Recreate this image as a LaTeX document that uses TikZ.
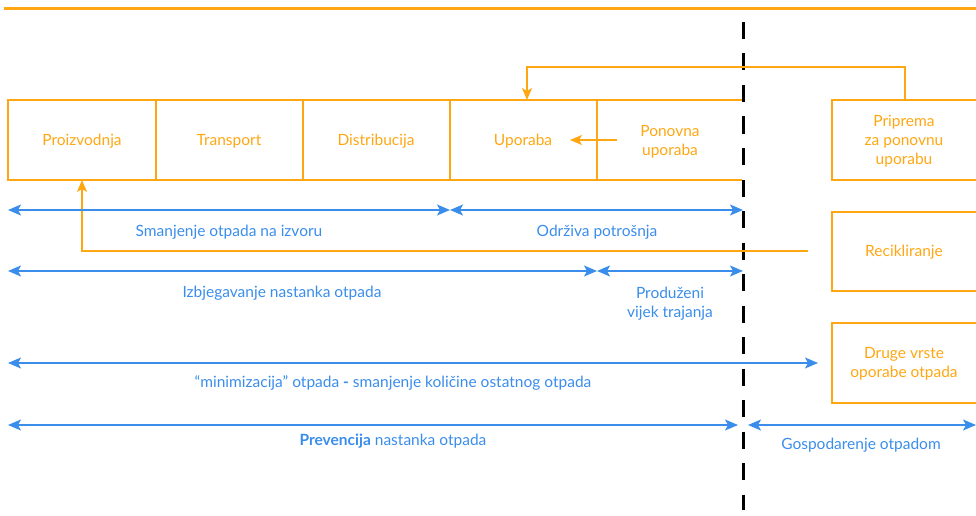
\documentclass[tikz,border=0pt]{standalone}
\usepackage{fontspec}
\setmainfont{Lato}
\usetikzlibrary{arrows.meta}
\definecolor{org}{HTML}{FFA712}
\definecolor{blu}{HTML}{3A8DEB}
\newcommand{\fs}{\fontsize{15.5}{19}\selectfont}
\tikzset{
  box/.style={draw=org, line width=1.2pt, outer sep=0pt, minimum height=80pt, inner sep=0pt},
  otext/.style={text=org, font=\fs, align=center, inner sep=0pt},
  lbl/.style={text=blu, font=\fs, align=center, inner sep=0pt},
  barrow/.style={draw=blu, line width=1.3pt, {Stealth[length=13pt,width=11pt,inset=3pt]}-{Stealth[length=13pt,width=11pt,inset=3pt]}},
  oarrow/.style={draw=org, line width=1.2pt, -{Stealth[length=12pt,width=10pt,inset=3pt]}},
}
\begin{document}
\begin{tikzpicture}[x=1pt,y=-1pt]
\useasboundingbox (0,0) rectangle (976,516);
% top line
\draw[org, line width=3pt] (4,9) -- (976,9);
% boxes row
\node[box, minimum width=148pt, anchor=north west] (p1) at (8,100) {};
\node[box, minimum width=147pt, anchor=north west] (p2) at (156,100) {};
\node[box, minimum width=147pt, anchor=north west] (p3) at (303,100) {};
\node[box, minimum width=147pt, anchor=north west] (p4) at (450,100) {};
\node[box, draw=none, minimum width=145pt, anchor=north west] (p5) at (597,100) {};
\draw[org, line width=1.2pt] (p5.north west) -- (p5.north east) (p5.south west) -- (p5.south east);
\node[otext] (p1t) at (82,141.5) {Proizvodnja};
\node[otext] (p2t) at (229,141.5) {Transport};
\node[otext] (p3t) at (376,141.5) {Distribucija};
\node[otext] (p4t) at (523,141.5) {Uporaba};
\node[otext] (p5t) at (670,141.5) {Ponovna\\uporaba};
% right boxes
\node[box, minimum width=160pt, anchor=north west] (r1) at (832,100) {};
\node[otext] (r1t) at (904,141.5) {Priprema\\za ponovnu\\uporabu};
\node[box, minimum width=160pt, minimum height=79pt, anchor=north west] (r2) at (832,212) {};
\node[otext] (r2t) at (904,252.5) {Recikliranje};
\node[box, minimum width=160pt, anchor=north west] (r3) at (832,323) {};
\node[otext] (r3t) at (904,363.5) {Druge vrste\\oporabe otpada};
% dashed line
\coordinate (dtop) at (743,22);
\coordinate (dbot) at (743,510);
\draw[black, line width=3pt, dash pattern=on 17pt off 14.5pt] (dtop) -- (dbot);
% orange connectors
\coordinate (c1) at (905,67);
\coordinate (c2) at (527,67);
\draw[oarrow] (r1.north -| c1) -- (c1) -- (c2) -- (c2 |- p4.north);
\coordinate (a1) at (617,140);
\coordinate (a2) at (570,140);
\draw[oarrow] (a1) -- (a2);
\coordinate (k1) at (808,251);
\coordinate (k2) at (82,251);
\draw[oarrow] (k1) -- (k2) -- (k2 |- p1.south);
% blue arrows
\coordinate (b1l) at (8,210); \coordinate (b1m) at (450,210); \coordinate (b1r) at (743,210);
\draw[barrow] (b1l) -- (b1m);
\draw[barrow] (b1m) -- (b1r);
\node[lbl] (l1) at (229,232.5) {Smanjenje otpada na izvoru};
\node[lbl] (l2) at (597,232.5) {Održiva potrošnja};
\coordinate (b2l) at (8,271); \coordinate (b2m) at (597,271); \coordinate (b2r) at (743,271);
\draw[barrow] (b2l) -- (b2m);
\draw[barrow] (b2m) -- (b2r);
\node[lbl] (l3) at (282,293.5) {Izbjegavanje nastanka otpada};
\node[lbl] (l4) at (670,303.5) {Produženi\\vijek trajanja};
\coordinate (b3l) at (8,363); \coordinate (b3r) at (818,363);
\draw[barrow] (b3l) -- (b3r);
\node[lbl] (l5) at (393,382.5) {“minimizacija” otpada \textbf{-} smanjenje količine ostatnog otpada};
\coordinate (b4l) at (8,425); \coordinate (b4m) at (738,425);
\coordinate (b4n) at (748,425); \coordinate (b4r) at (976,425);
\draw[barrow] (b4l) -- (b4m);
\draw[barrow] (b4n) -- (b4r);
\node[lbl] (l6) at (393,441.5) {\textbf{Prevencija} nastanka otpada};
\node[lbl] (l7) at (861,445.5) {Gospodarenje otpadom};
\end{tikzpicture}
\end{document}
